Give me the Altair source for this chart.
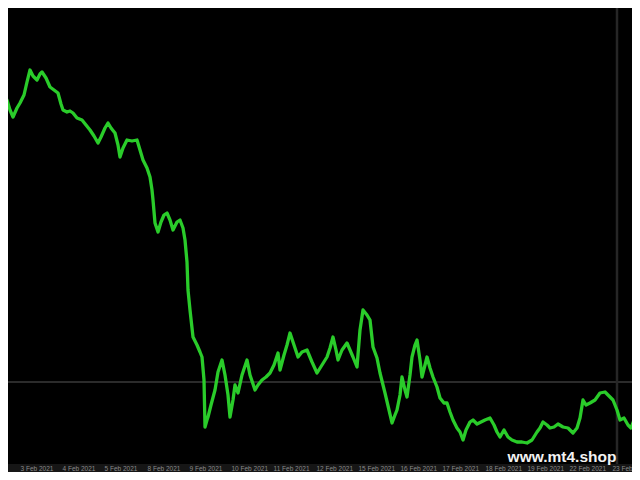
import altair as alt
import pandas as pd

# bar position (time) and close price
bars = [0, 4, 7, 10, 13, 17, 20, 24, 27, 30, 33, 37, 40, 42, 46, 50, 54, 58, 61, 63,
        67, 70, 73, 77, 82, 86, 90, 94, 98, 101, 105, 108, 111, 115, 118, 120, 123, 127,
        132, 137, 140, 143, 147, 150, 152, 153, 155, 158, 161, 164, 167, 170, 173, 177,
        180, 183, 185, 187, 188,
        190, 193, 197, 200, 202, 204, 205, 207, 208, 211, 215, 218, 222, 225, 228, 230,
        233, 235, 238, 242, 247, 250, 255, 258, 262, 266, 270, 274, 278, 280, 284, 287,
        290, 294, 298, 302, 307, 312, 317, 322, 327, 330, 333, 336, 338, 342, 347, 350,
        353, 357, 360, 363, 367, 370, 373, 377, 380, 385, 389, 392, 395, 397, 400, 402,
        405, 407, 410, 412, 415, 417, 420, 422, 425, 427, 430, 433, 437, 440,
        444, 447, 450, 453, 457, 460, 463, 466, 470, 473, 477, 481, 485, 490, 494, 497,
        500, 504, 508, 512, 517, 522, 527, 532, 537, 540, 543, 547, 550, 554, 558, 563,
        568, 573, 577, 580, 583, 586, 590, 595, 600, 605, 609, 613, 617, 620, 624, 628,
        631, 634, 637, 640]
price = [393, 385, 380, 370, 363, 372, 377, 385, 398, 410, 404, 400, 406, 408, 402, 393,
         390, 387, 376, 370, 368, 369, 367, 362, 360, 355, 350, 344, 337, 343, 352, 357,
         352, 347, 335, 323, 332, 340, 339, 340, 330, 320, 312, 303, 290, 280, 257, 248,
         258, 265, 267, 260, 250, 258, 260, 252, 240, 218, 190,
         170, 143, 135, 128, 123, 100, 53, 60, 63, 75, 90, 108, 120, 105, 85, 63,
         80, 95, 87, 105, 120, 105, 90, 95, 100, 103, 107, 115, 127, 110, 125, 135,
         147, 135, 123, 128, 130, 118, 107, 115, 123, 132, 143, 130, 120, 130, 137, 130,
         123, 113, 150, 170, 165, 160, 133, 122, 107, 87, 70, 57, 65, 70, 85, 103,
         90, 83, 105, 123, 135, 140, 120, 103, 115, 123, 112, 103, 93, 82,
         77, 77, 68, 60, 52, 48, 40, 50, 58, 60, 56, 58, 60, 62, 55, 48,
         43, 50, 43, 40, 38, 38, 37, 40, 48, 52, 58, 55, 52, 53, 56, 53,
         52, 47, 52, 62, 80, 75, 77, 80, 87, 88, 84, 80, 70, 60, 62, 55,
         52, 60, 83, 80]

level_price = [98]      # grey horizontal price level
cursor_bar = [617]      # faint vertical line
tick_bars = [20, 62, 104, 147, 189, 231, 273, 316, 358, 400, 442, 485, 527, 569, 612]
tick_labels = ["3 Feb 2021", "4 Feb 2021", "5 Feb 2021", "8 Feb 2021", "9 Feb 2021",
               "10 Feb 2021", "11 Feb 2021", "12 Feb 2021", "15 Feb 2021", "16 Feb 2021",
               "17 Feb 2021", "18 Feb 2021", "19 Feb 2021", "22 Feb 2021", "23 Feb"]
watermark = ["www.mt4.shop"]
watermark_bar = [562]
watermark_price = [18]

df = pd.DataFrame({"bar": bars, "price": price})

xs = alt.Scale(domain=[8, 632], nice=False, zero=False)
ys = alt.Scale(domain=[16, 472], nice=False, zero=False)

lab_arr = "[" + ",".join(f"'{l}'" for l in tick_labels) + "]"
val_arr = "[" + ",".join(str(v) for v in tick_bars) + "]"
x_axis = alt.Axis(
    values=tick_bars,
    labelExpr=f"{lab_arr}[indexof({val_arr}, datum.value)]",
    domain=False, grid=False, ticks=False,
    labelAlign="left", labelBaseline="top", labelPadding=1,
    labelFontSize=6.5, labelFont="Liberation Sans", labelColor="#8a8a8a",
    labelOverlap=False, labelFlush=False, labelBound=False,
    title=None, minExtent=8, maxExtent=8,
)

hline = alt.Chart(pd.DataFrame({"price": level_price})).mark_rule(
    color="#3a3a3a", strokeWidth=1.5
).encode(y=alt.Y("price:Q", scale=ys, axis=None))

vline = alt.Chart(pd.DataFrame({"bar": cursor_bar})).mark_rule(
    color="#262626", strokeWidth=2.5
).encode(x=alt.X("bar:Q", scale=xs, axis=x_axis))

line = alt.Chart(df).mark_line(
    color="#2acc2a", strokeWidth=3.3, strokeJoin="round", strokeCap="round", clip=True
).encode(
    x=alt.X("bar:Q", scale=xs, axis=x_axis),
    y=alt.Y("price:Q", scale=ys, axis=None),
    order="bar:Q",
)

wm = alt.Chart(pd.DataFrame({"bar": watermark_bar, "price": watermark_price, "t": watermark})).mark_text(
    font="Liberation Sans", fontWeight="bold", fontSize=15.5, color="#f2f2f2",
    align="center", baseline="alphabetic",
).encode(
    x=alt.X("bar:Q", scale=xs, axis=x_axis),
    y=alt.Y("price:Q", scale=ys, axis=None),
    text="t:N",
)

chart = alt.layer(hline, vline, line, wm).properties(
    width=624, height=456,
    background="#161616",
    padding={"left": 0, "right": 0, "top": 0, "bottom": 8},
    autosize=alt.AutoSizeParams(type="none"),
).configure_view(fill="black", stroke=None)

chart.save("out.html", embed_options={"renderer": "svg", "actions": False})
